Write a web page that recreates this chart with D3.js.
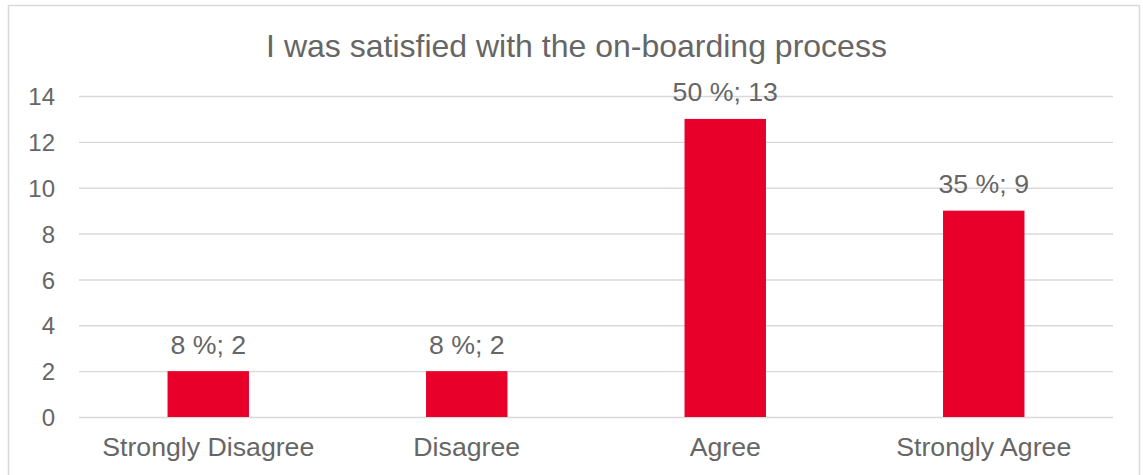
<!DOCTYPE html>
<html>
<head>
<meta charset="utf-8">
<script src="https://cdn.jsdelivr.net/npm/d3@7"></script>
<style>
  html, body { margin: 0; padding: 0; background: #fff; }
  svg { display: block; font-family: "Liberation Sans", Arial, sans-serif; }
</style>
</head>
<body>
<svg id="chart" width="1143" height="475"></svg>
<script>
// Survey responses for the on-boarding question
const categories = ["Strongly Disagree", "Disagree", "Agree", "Strongly Agree"];
const counts = [2, 2, 13, 9];
const percents = [8, 8, 50, 35];
const yTicks = [0, 2, 4, 6, 8, 10, 12, 14];
const title = "I was satisfied with the on-boarding process";

const W = 1143, H = 475;
const plot = { left: 79, right: 1113, top: 96, bottom: 417 };
const textColor = "#666666";
const gridColor = "#D9D9D9";
const barColor = "#E8002B";

const svg = d3.select("#chart");

// Chart frame
svg.append("rect")
  .attr("x", 8.5).attr("y", 5.5)
  .attr("width", 1131).attr("height", 480)
  .attr("fill", "#fff")
  .attr("stroke", gridColor).attr("stroke-width", 1.5);

const x = d3.scaleBand()
  .domain(categories)
  .range([plot.left, plot.right])
  .paddingInner(0.685)
  .paddingOuter(0.3425);

const y = d3.scaleLinear()
  .domain([0, 14])
  .range([plot.bottom, plot.top]);

// Horizontal gridlines + value labels
const yAxis = d3.axisLeft(y)
  .tickValues(yTicks)
  .tickSize(-(plot.right - plot.left))
  .tickPadding(24);

const gy = svg.append("g")
  .attr("transform", `translate(${plot.left},0)`)
  .call(yAxis);
gy.select(".domain").remove();
gy.selectAll(".tick line")
  .attr("stroke", gridColor).attr("stroke-width", 1.4);
gy.selectAll(".tick text")
  .attr("fill", textColor)
  .attr("font-size", 24)
  .attr("font-family", "Liberation Sans, Arial, sans-serif")
  .attr("dy", "0.36em");

// Category labels
const xAxis = d3.axisBottom(x).tickSize(0).tickPadding(0);
const gx = svg.append("g")
  .attr("transform", `translate(0,${plot.bottom})`)
  .call(xAxis);
gx.select(".domain").remove();
gx.selectAll(".tick text")
  .attr("fill", textColor)
  .attr("font-size", 26.7)
  .attr("font-family", "Liberation Sans, Arial, sans-serif")
  .attr("dy", null)
  .attr("y", 39);

// Bars
const rows = categories.map((c, i) => ({ cat: c, n: counts[i], pct: percents[i] }));

svg.append("g").selectAll("rect")
  .data(rows)
  .join("rect")
  .attr("x", d => x(d.cat))
  .attr("y", d => y(d.n))
  .attr("width", x.bandwidth())
  .attr("height", d => y(0) - y(d.n))
  .attr("fill", barColor);

// Value labels above bars
svg.append("g").selectAll("text")
  .data(rows)
  .join("text")
  .attr("x", d => x(d.cat) + x.bandwidth() / 2)
  .attr("y", d => y(d.n) - 17.5)
  .attr("text-anchor", "middle")
  .attr("fill", textColor)
  .attr("font-size", 26.7)
  .text(d => `${d.pct} %; ${d.n}`);

// Title
svg.append("text")
  .attr("x", 576.5)
  .attr("y", 57)
  .attr("text-anchor", "middle")
  .attr("fill", textColor)
  .attr("font-size", 32)
  .text(title);
</script>
</body>
</html>
